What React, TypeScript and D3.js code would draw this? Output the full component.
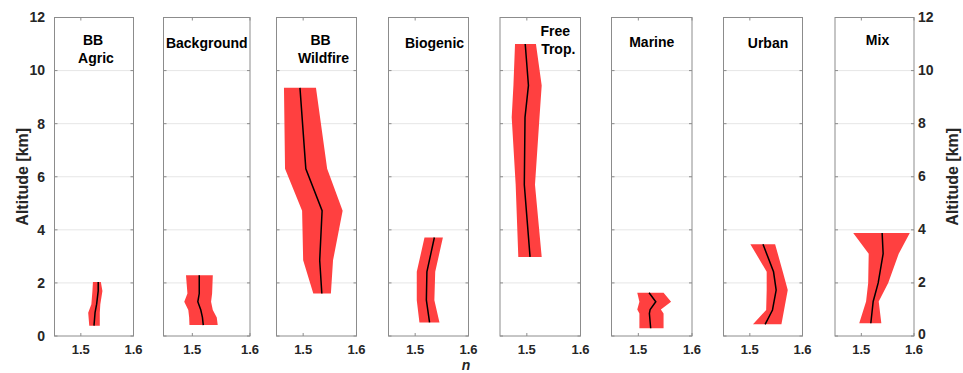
import React from "react";
import * as d3 from "d3";

// ---------- data ----------
const categories = ["BB\nAgric", "Background", "BB\nWildfire", "Biogenic", "Free\nTrop.", "Marine", "Urban", "Mix"];

const altBBAgric = [2.03, 1.7, 1.2, 0.88, 0.39];
const meanBBAgric = [1.533, 1.533, 1.53, 1.527, 1.525];
const loBBAgric = [1.523, 1.522, 1.52, 1.514, 1.516];
const hiBBAgric = [1.538, 1.541, 1.537, 1.536, 1.536];

const altBackground = [2.29, 1.6, 1.29, 0.98, 0.7, 0.41];
const meanBackground = [1.512, 1.512, 1.5095, 1.5147, 1.5175, 1.519];
const loBackground = [1.489, 1.4915, 1.486, 1.493, 1.4945, 1.495];
const hiBackground = [1.5355, 1.5343, 1.5325, 1.5355, 1.5424, 1.544];

const altWildfire = [9.35, 6.3, 4.72, 2.85, 1.6];
const meanWildfire = [1.494, 1.505, 1.5355, 1.531, 1.535];
const loWildfire = [1.464, 1.466, 1.498, 1.5, 1.519];
const hiWildfire = [1.524, 1.545, 1.574, 1.556, 1.552];

const altBiogenic = [3.71, 2.42, 1.35, 0.51];
const meanBiogenic = [1.536, 1.522, 1.521, 1.527];
const loBiogenic = [1.5175, 1.503, 1.503, 1.508];
const hiBiogenic = [1.552, 1.5376, 1.536, 1.5456];

const altFreeTrop = [11, 9.44, 8.24, 5.7, 2.98];
const meanFreeTrop = [1.497, 1.503, 1.4966, 1.4953, 1.506];
const loFreeTrop = [1.478, 1.475, 1.4718, 1.4792, 1.4841];
const hiFreeTrop = [1.517, 1.5277, 1.5236, 1.5152, 1.5277];

const altMarine = [1.63, 1.29, 1.0, 0.85, 0.29];
const meanMarine = [1.52, 1.5325, 1.522, 1.5206, 1.523];
const loMarine = [1.498, 1.502, 1.498, 1.502, 1.502];
const hiMarine = [1.547, 1.561, 1.542, 1.547, 1.547];

const altUrban = [3.46, 2.42, 1.73, 0.98, 0.44];
const meanUrban = [1.525, 1.545, 1.55, 1.543, 1.529];
const loUrban = [1.501, 1.532, 1.532, 1.531, 1.506];
const hiUrban = [1.548, 1.5626, 1.572, 1.565, 1.56];

const altMix = [3.88, 3.1, 2.0, 1.3, 0.48];
const meanMix = [1.5395, 1.5414, 1.532, 1.5225, 1.518];
const loMix = [1.4846, 1.514, 1.513, 1.509, 1.496];
const hiMix = [1.592, 1.571, 1.551, 1.533, 1.538];

const seriesAlt = [altBBAgric, altBackground, altWildfire, altBiogenic, altFreeTrop, altMarine, altUrban, altMix];
const seriesMean = [meanBBAgric, meanBackground, meanWildfire, meanBiogenic, meanFreeTrop, meanMarine, meanUrban, meanMix];
const seriesLo = [loBBAgric, loBackground, loWildfire, loBiogenic, loFreeTrop, loMarine, loUrban, loMix];
const seriesHi = [hiBBAgric, hiBackground, hiWildfire, hiBiogenic, hiFreeTrop, hiMarine, hiUrban, hiMix];

const xTicks = [1.5, 1.6];
const yTicks = [0, 2, 4, 6, 8, 10, 12];
const xDomain = [1.45, 1.6];
const yDomain = [0, 12];

// ---------- layout ----------
const W = 963;
const H = 373;
const panelLeft = [54.5, 163.5, 276.5, 388.5, 500, 611.5, 723.5, 835];
const panelWidth = [79, 86.5, 80, 80, 80.5, 80.5, 79, 79];
const titleDx = [-1, 0, 4, 6, 15, 0, 5, 3];
const titleY = [40, 43, 40, 43, 31, 42, 43, 40];
const top = 17.5;
const bottom = 336;
const fill = "rgb(255,64,64)";
const axisColor = "#8c8c8c";
const gridColor = "#e6e6e6";
const textColor = "#262626";
const font = "'Liberation Sans', Arial, sans-serif";

export default function App() {
  const y = d3.scaleLinear().domain(yDomain).range([bottom, top]);
  return (
    <div style={{ position: "absolute", left: 0, top: 0 }}>
      <svg width={W} height={H} style={{ display: "block", background: "#fff" }} fontFamily={font}>
        {categories.map((cat, i) => {
          const x = d3.scaleLinear().domain(xDomain).range([panelLeft[i], panelLeft[i] + panelWidth[i]]);
          const rows = seriesAlt[i].map((a, k) => ({ a, m: seriesMean[i][k], lo: seriesLo[i][k], hi: seriesHi[i][k] }));
          const area = d3.area<any>().y((d) => y(d.a)).x0((d) => x(d.lo)).x1((d) => x(d.hi));
          const line = d3.line<any>().x((d) => x(d.m)).y((d) => y(d.a));
          const x0 = x.range()[0];
          const x1 = x.range()[1];
          const lines = cat.split("\n");
          const cx = (x0 + x1) / 2 + titleDx[i];
          return (
            <g key={i}>
              {yTicks.slice(1, -1).map((t) => (
                <line key={t} x1={x0} x2={x1} y1={y(t)} y2={y(t)} stroke={gridColor} strokeWidth={1} />
              ))}
              <path d={area(rows) || ""} fill={fill} stroke="none" />
              <path d={line(rows) || ""} fill="none" stroke="#000" strokeWidth={1.5} />
              <rect x={x0} y={top} width={x1 - x0} height={bottom - top} fill="none" stroke={axisColor} strokeWidth={1} />
              {yTicks.map((t) => (
                <g key={"t" + t}>
                  <line x1={x0} x2={x0 + 3} y1={y(t)} y2={y(t)} stroke={axisColor} />
                  <line x1={x1} x2={x1 - 3} y1={y(t)} y2={y(t)} stroke={axisColor} />
                </g>
              ))}
              {xTicks.map((t) => (
                <g key={"x" + t}>
                  <line x1={x(t)} x2={x(t)} y1={bottom} y2={bottom - 3} stroke={axisColor} />
                  <line x1={x(t)} x2={x(t)} y1={top} y2={top + 3} stroke={axisColor} />
                  <text x={x(t)} y={354} textAnchor="middle" fontSize={13} fontWeight="bold" fill={textColor}>
                    {t.toFixed(1)}
                  </text>
                </g>
              ))}
              <text x={cx} y={titleY[i]} textAnchor="middle" fontSize={14} fontWeight="bold" fill="#000">
                {lines.map((l, k) => (
                  <tspan key={k} x={cx + (lines.length > 1 && k === 1 ? 3 : 0)} dy={k === 0 ? "0.35em" : 18}>
                    {l}
                  </tspan>
                ))}
              </text>
            </g>
          );
        })}
        {yTicks.map((t) => (
          <g key={"yl" + t}>
            <text x={45} y={y(t)} dy="0.35em" textAnchor="end" fontSize={14} fontWeight="bold" fill={textColor}>
              {t}
            </text>
            <text x={918} y={y(t) - (t === 0 ? 1 : 0)} dy="0.32em" textAnchor="start" fontSize={14} fontWeight="bold" fill={textColor}>
              {t}
            </text>
          </g>
        ))}
        <text transform={`translate(22,${(top + bottom) / 2}) rotate(-90)`} textAnchor="middle" dy="0.35em" fontSize={16} fontWeight="bold" fill={textColor}>
          Altitude [km]
        </text>
        <text transform={`translate(952,${(top + bottom) / 2}) rotate(-90)`} textAnchor="middle" dy="0.35em" fontSize={16} fontWeight="bold" fill={textColor}>
          Altitude [km]
        </text>
        <text x={466} y={370} textAnchor="middle" fontSize={14} fontWeight="bold" fontStyle="italic" fill={textColor}>
          n
        </text>
      </svg>
    </div>
  );
}
